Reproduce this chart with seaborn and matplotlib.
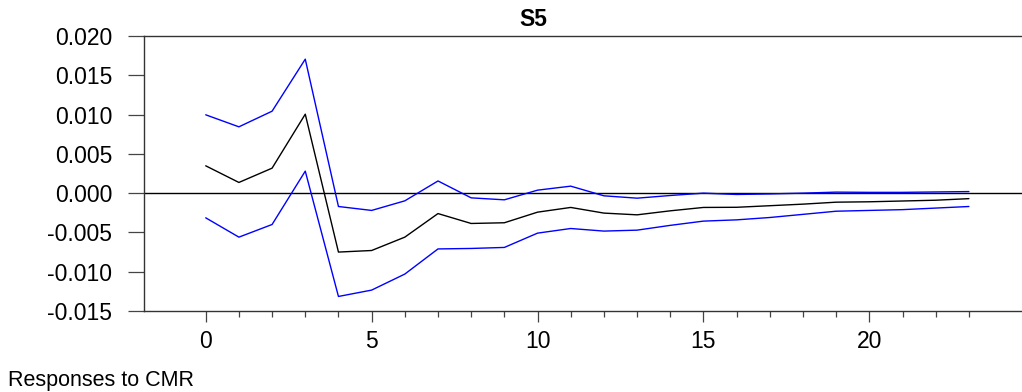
import numpy as np
import pandas as pd
import matplotlib
matplotlib.use("Agg")
import matplotlib.pyplot as plt
from matplotlib.ticker import FixedLocator, FormatStrFormatter
import seaborn as sns

periods = list(range(24))
response = [0.00348, 0.00136, 0.00318, 0.01005, -0.0075, -0.0073, -0.0056, -0.0026,
            -0.00386, -0.00377, -0.00242, -0.00182, -0.00254, -0.00276, -0.00225, -0.00182,
            -0.0018, -0.0016, -0.0014, -0.00115, -0.0011, -0.0010, -0.0009, -0.0007]
upper = [0.00997, 0.00844, 0.01043, 0.01705, -0.0017, -0.0022, -0.00098, 0.00155,
         -0.0006, -0.00085, 0.00038, 0.00089, -0.00034, -0.00064, -0.0003, 0.0,
         -0.00017, -0.0001, 0.0, 0.00013, 0.0001, 0.0001, 0.00015, 0.0002]
lower = [-0.00314, -0.0056, -0.00399, 0.0028, -0.01315, -0.01234, -0.0103, -0.0071,
         -0.00704, -0.00691, -0.00509, -0.0045, -0.00483, -0.00471, -0.0041, -0.00356,
         -0.0034, -0.0031, -0.0027, -0.0023, -0.0022, -0.0021, -0.0019, -0.0017]
y_ticks = [-0.015, -0.010, -0.005, 0.000, 0.005, 0.010, 0.015, 0.020]
x_major = [0, 5, 10, 15, 20]
title = "S5"
footer = "Responses to CMR"

df = pd.DataFrame({
    "period": periods * 3,
    "value": upper + response + lower,
    "series": ["upper"] * 24 + ["response"] * 24 + ["lower"] * 24,
})

sns.set_style("white")
plt.rcParams["font.family"] = ["Liberation Sans", "DejaVu Sans"]
plt.rcParams["text.color"] = "black"
plt.rcParams["xtick.color"] = "black"
plt.rcParams["ytick.color"] = "black"
plt.rcParams["xtick.labelcolor"] = "black"
plt.rcParams["ytick.labelcolor"] = "black"

fig = plt.figure(figsize=(10.22, 3.92), dpi=100)
ax = fig.add_axes([144 / 1022, 1 - 311 / 392, 878 / 1022, 275 / 392])

sns.lineplot(data=df, x="period", y="value", hue="series", units="series", estimator=None,
             palette={"upper": "#0000ff", "response": "#000000", "lower": "#0000ff"},
             linewidth=1.0, legend=False, ax=ax)
ax.axhline(0, color="black", linewidth=1.0, zorder=1)

ax.set_xlim(-1.86, 24.6)
ax.set_ylim(-0.015, 0.020)
ax.set_xlabel("")
ax.set_ylabel("")
ax.yaxis.set_major_locator(FixedLocator(y_ticks))
ax.yaxis.set_major_formatter(FormatStrFormatter("%.3f"))
ax.xaxis.set_major_locator(FixedLocator(x_major))
ax.xaxis.set_minor_locator(FixedLocator(periods))

for s in ["top", "left", "bottom"]:
    ax.spines[s].set_visible(True)
    ax.spines[s].set_color("#333333")
    ax.spines[s].set_linewidth(1.0)
ax.spines["right"].set_visible(False)

ax.tick_params(axis="y", which="major", length=11.5, width=0.9, color="#444444",
               pad=11.5, labelsize=16.5, labelcolor="black", left=True, direction="out")
ax.tick_params(axis="x", which="major", length=8, width=0.9, color="#444444",
               pad=6, labelsize=16.5, labelcolor="black", bottom=True, direction="out")
ax.tick_params(axis="x", which="minor", length=4.5, width=0.9, color="#444444",
               bottom=True, direction="out")

fig.text(533 / 1022, 1 - 19 / 392, title, ha="center", va="center",
         fontsize=16.5, fontweight="bold", color="black")
fig.text(8 / 1022, 1 - 386 / 392, footer, ha="left", va="baseline", fontsize=15.5,
         color="black")

fig.savefig("out.png", dpi=100)
